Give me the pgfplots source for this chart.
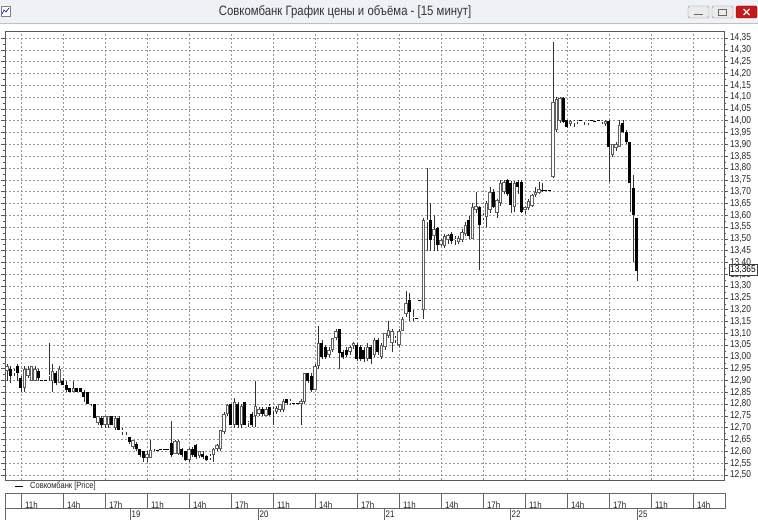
\documentclass[border=0pt]{standalone}
\usepackage{fontspec}
\setmainfont{Liberation Sans}
\newfontfamily\condfont{Liberation Sans}[FakeStretch=0.84]
\usepackage{pgfplots}
\pgfplotsset{compat=1.18}
\usepackage{pgfplotstable}

\pgfplotstableread{
x o h l c
0 12.94 12.97 12.90 12.96
1 12.95 12.96 12.89 12.92
2 12.93 12.95 12.92 12.94
3 12.96 12.97 12.90 12.93
4 12.91 12.92 12.85 12.87
5 12.87 12.96 12.85 12.95
6 12.92 12.96 12.91 12.95
7 12.90 12.96 12.90 12.96
8 12.90 12.96 12.90 12.95
9 12.94 12.95 12.90 12.91
10 12.90 12.90 12.90 12.90
11 12.90 12.90 12.90 12.90
12 12.92 13.06 12.90 12.925
13 12.90 12.97 12.85 12.94
14 12.93 12.94 12.88 12.89
15 12.89 12.96 12.89 12.95
16 12.90 12.91 12.88 12.88
17 12.88 12.90 12.85 12.86
18 12.87 12.87 12.85 12.85
19 12.85 12.90 12.85 12.87
20 12.87 12.87 12.85 12.85
21 12.87 12.87 12.85 12.85
22 12.85 12.86 12.81 12.83
23 12.85 12.85 12.80 12.80
24 12.81 12.81 12.79 12.80
25 12.80 12.80 12.74 12.74
26 12.72 12.75 12.71 12.75
27 12.74 12.75 12.70 12.71
28 12.71 12.75 12.70 12.75
29 12.71 12.75 12.70 12.75
30 12.75 12.75 12.71 12.71
31 12.70 12.75 12.69 12.74
32 12.74 12.75 12.69 12.69
33 12.69 12.70 12.67 12.68
34 12.67 12.68 12.66 12.66
35 12.66 12.66 12.63 12.64
36 12.62 12.65 12.61 12.65
37 12.63 12.64 12.60 12.61
38 12.61 12.61 12.58 12.585
39 12.60 12.60 12.555 12.57
40 12.57 12.60 12.555 12.59
41 12.57 12.65 12.57 12.605
42 12.60 12.61 12.60 12.605
43 12.605 12.605 12.605 12.605
44 12.61 12.61 12.61 12.61
45 12.61 12.61 12.61 12.61
46 12.61 12.61 12.61 12.61
47 12.635 12.73 12.58 12.585
48 12.59 12.65 12.59 12.645
49 12.59 12.65 12.585 12.645
50 12.61 12.615 12.58 12.585
51 12.60 12.60 12.56 12.565
52 12.565 12.615 12.555 12.61
53 12.61 12.62 12.58 12.585
54 12.625 12.63 12.57 12.575
55 12.58 12.60 12.57 12.60
56 12.59 12.60 12.57 12.575
57 12.58 12.585 12.56 12.565
58 12.57 12.59 12.565 12.58
59 12.585 12.615 12.555 12.61
60 12.61 12.63 12.605 12.625
61 12.61 12.69 12.605 12.69
62 12.68 12.765 12.675 12.76
63 12.76 12.80 12.75 12.795
64 12.80 12.80 12.71 12.71
65 12.71 12.825 12.70 12.81
66 12.80 12.81 12.70 12.71
67 12.71 12.80 12.70 12.79
68 12.81 12.81 12.71 12.71
69 12.72 12.73 12.705 12.725
70 12.76 12.765 12.705 12.71
71 12.75 12.90 12.705 12.79
72 12.76 12.79 12.75 12.78
73 12.78 12.79 12.75 12.76
74 12.75 12.79 12.75 12.78
75 12.79 12.80 12.75 12.755
76 12.77 12.79 12.71 12.78
77 12.765 12.79 12.76 12.785
78 12.775 12.80 12.77 12.80
79 12.775 12.82 12.77 12.815
80 12.82 12.82 12.80 12.805
81 12.815 12.82 12.80 12.805
82 12.805 12.805 12.805 12.805
83 12.805 12.805 12.805 12.805
84 12.80 12.82 12.71 12.815
85 12.81 12.93 12.80 12.93
86 12.93 12.93 12.89 12.90
87 12.92 12.93 12.85 12.86
88 12.86 12.97 12.86 12.96
89 12.96 13.13 12.95 13.06
90 13.06 13.07 12.99 13.00
91 13.04 13.05 12.99 13.00
92 13.01 13.04 13.00 13.03
93 13.03 13.08 13.02 13.08
94 13.08 13.12 13.07 13.11
95 13.12 13.12 12.95 13.015
96 13.02 13.03 12.99 13.00
97 13.03 13.04 13.00 13.01
98 13.02 13.045 13.01 13.04
99 13.045 13.065 13.035 13.06
100 13.05 13.06 12.985 12.99
101 13.04 13.05 12.985 12.99
102 13.03 13.04 12.98 12.99
103 12.99 13.06 12.985 13.04
104 13.04 13.05 12.97 12.99
105 13.01 13.08 13.00 13.07
106 13.07 13.08 13.01 13.02
107 13.00 13.06 12.99 13.05
108 13.04 13.10 13.03 13.10
109 13.09 13.15 13.08 13.115
110 13.06 13.12 13.02 13.11
111 13.08 13.09 13.06 13.07
112 13.05 13.12 13.04 13.11
113 13.11 13.17 13.11 13.16
114 13.18 13.28 13.17 13.23
115 13.24 13.27 13.15 13.19
116 13.17 13.20 13.15 13.165
117 13.165 13.165 13.165 13.165
118 13.24 13.24 13.24 13.24
119 13.20 13.59 13.16 13.58
120 13.58 13.80 13.45 13.57
121 13.58 13.65 13.45 13.495
122 13.51 13.60 13.45 13.54
123 13.545 13.55 13.45 13.475
124 13.475 13.50 13.47 13.495
125 13.47 13.52 13.46 13.51
126 13.495 13.52 13.48 13.515
127 13.52 13.53 13.48 13.49
128 13.50 13.51 13.475 13.495
129 13.488 13.51 13.48 13.503
130 13.495 13.54 13.49 13.53
131 13.52 13.57 13.51 13.56
132 13.58 13.595 13.50 13.51
133 13.50 13.65 13.50 13.636
134 13.62 13.70 13.61 13.64
135 13.636 13.64 13.37 13.558
136 13.587 13.61 13.58 13.60
137 13.594 13.66 13.55 13.65
138 13.62 13.72 13.61 13.70
139 13.70 13.71 13.63 13.636
140 13.61 13.67 13.59 13.665
141 13.65 13.75 13.64 13.735
142 13.70 13.75 13.69 13.742
143 13.75 13.755 13.68 13.69
144 13.735 13.745 13.608 13.643
145 13.636 13.745 13.615 13.735
146 13.742 13.75 13.69 13.72
147 13.742 13.75 13.61 13.615
148 13.62 13.64 13.605 13.635
149 13.63 13.67 13.625 13.66
150 13.64 13.69 13.635 13.685
151 13.685 13.72 13.68 13.70
152 13.695 13.742 13.69 13.71
153 13.705 13.735 13.70 13.705
154 13.705 13.705 13.705 13.705
155 13.705 13.705 13.705 13.705
156 13.763 14.335 13.76 14.08
157 13.96 14.10 13.955 14.09
158 14.00 14.10 13.99 14.095
159 14.095 14.10 13.99 13.996
160 14.003 14.005 13.97 13.975
161 13.985 14.003 13.98 14.00
162 14.00 14.003 13.975 13.99
163 13.995 14.003 13.99 14.00
164 14.00 14.00 14.00 14.00
165 14.00 14.00 13.98 13.995
166 13.99 14.003 13.985 14.00
167 14.00 14.00 14.00 14.00
168 13.998 13.998 13.998 13.998
169 14.00 14.00 14.00 14.00
170 14.00 14.003 13.985 13.993
171 13.985 14.003 13.98 14.00
172 14.00 14.003 13.742 13.89
173 13.855 13.90 13.85 13.90
174 13.885 13.91 13.87 13.90
175 13.89 14.003 13.89 13.98
176 13.99 14.005 13.95 13.954
177 13.954 13.96 13.90 13.91
178 13.91 13.91 13.615 13.735
179 13.714 13.77 13.40 13.60
180 13.587 13.59 13.32 13.365
}\candles

\definecolor{upgray}{RGB}{95,95,95}
\definecolor{titlebar}{RGB}{238,241,245}
\definecolor{gridc}{RGB}{150,150,150}
\definecolor{framec}{RGB}{90,90,90}

\pgfplotsset{
  bodyplot/.style={draw=none, mark=none, forget plot,
    error bars/y dir=both, error bars/y explicit, error bars/error mark=none},
}

\begin{document}
\begin{tikzpicture}
\useasboundingbox (0bp,0bp) rectangle (758bp,520bp);
\begin{scope}[x=1bp,y=1bp]
\fill[white] (0,0) rectangle (758,520);
% window title bar
\fill[titlebar] (0,497) rectangle (758,520);
\draw[black!25] (0,497) -- (758,497);
\node[font=\condfont\fontsize{13.6}{14}\selectfont, text=black!80] at (345,508.5) {Совкомбанк График цены и объёма - [15 минут]};
% small icon
\draw[black!50, fill=white] (1,504) rectangle (10,514);
\draw[blue!60!black, line width=0.6bp] (2,506) -- (4,510) -- (6,508) -- (9,512);
% window buttons
\draw[black!45, fill=black!8, rounded corners=1.5bp] (688,502) rectangle (709,514);
\draw[black!60, line width=1bp] (694,505.5) -- (703,505.5);
\draw[black!45, fill=black!8, rounded corners=1.5bp] (712,502) rectangle (733,514);
\draw[black!60, line width=0.8bp] (718.5,505) rectangle (726.5,511);
\draw[red!50!black, fill=red!75!black!90, rounded corners=1.5bp] (736,502) rectangle (757,514);
\draw[white, line width=1.2bp] (743.5,505) -- (749.5,511) (743.5,511) -- (749.5,505);
\end{scope}

\begin{axis}[
  name=main,
  at={(5bp,40.3bp)}, anchor=south west,
  scale only axis, width=719bp, height=448.7bp,
  xmin=-0.57, xmax=204.86, ymin=12.48, ymax=14.38,
  axis line style={draw=framec},
  tick align=outside,
  ytick={12.50,12.55,...,14.36},
  minor y tick num=1,
  ytick pos=both, yticklabel pos=right,
  major tick length=4bp, minor tick length=2.2bp,
  y tick style={draw=framec, line width=0.5bp},
  yticklabel style={font=\condfont\fontsize{10}{10}\selectfont, text=black!85, xshift=-1.5bp,
    /pgf/number format/.cd, fixed, fixed zerofill, precision=2, use comma, assume math mode=true},
  xtick={4,16,28,40,52,64,76,88,100,112,124,136,148,160,172,184,196},
  xticklabels={11h,14h,17h,11h,14h,17h,11h,14h,17h,11h,14h,17h,11h,14h,17h,11h,14h},
  x tick style={draw=none},
  xticklabel style={anchor=west, yshift=-21.3bp, xshift=0.5bp, font=\condfont\fontsize{9.5}{10}\selectfont, text=black!85},
  grid=major,
  major grid style={draw=gridc, line width=0.5bp, dash pattern=on 2bp off 2bp},
]
% upper wicks (high to top of body)
\addplot[bodyplot, error bars/error bar style={draw=black!80, line width=0.7bp, line cap=butt}]
  table[x=x, y expr={(\thisrow{h}+max(\thisrow{o},\thisrow{c}))/2}, y error expr={(\thisrow{h}-max(\thisrow{o},\thisrow{c}))/2}] {\candles};
% lower wicks (bottom of body to low)
\addplot[bodyplot, error bars/error bar style={draw=black!80, line width=0.7bp, line cap=butt}]
  table[x=x, y expr={(\thisrow{l}+min(\thisrow{o},\thisrow{c}))/2}, y error expr={(min(\thisrow{o},\thisrow{c})-\thisrow{l})/2}] {\candles};
% up bodies (outline)
\addplot[bodyplot, restrict expr to domain={\thisrow{c}-\thisrow{o}}{0.0005:5},
  error bars/error bar style={draw=upgray, line width=3.3bp, line cap=rect}]
  table[x=x, y expr={(\thisrow{o}+\thisrow{c})/2}, y error expr={max((\thisrow{c}-\thisrow{o})/2-0.007,0)}] {\candles};
% up bodies (hollow inside)
\addplot[bodyplot, restrict expr to domain={\thisrow{c}-\thisrow{o}}{0.0005:5},
  error bars/error bar style={draw=white, line width=1.3bp, line cap=rect}]
  table[x=x, y expr={(\thisrow{o}+\thisrow{c})/2}, y error expr={max((\thisrow{c}-\thisrow{o})/2-0.007,0)}] {\candles};
% down bodies
\addplot[bodyplot, restrict expr to domain={\thisrow{o}-\thisrow{c}}{0.0005:5},
  error bars/error bar style={draw=black, line width=3bp, line cap=rect}]
  table[x=x, y expr={(\thisrow{o}+\thisrow{c})/2}, y error expr={max((\thisrow{o}-\thisrow{c})/2-0.0064,0)}] {\candles};
% flat bars
\addplot[only marks, mark=-, mark size=1.5bp, forget plot,
  mark options={draw=black, line width=0.8bp},
  restrict expr to domain={abs(\thisrow{c}-\thisrow{o})}{0:0.0005}]
  table[x=x, y=c] {\candles};
\end{axis}

\begin{scope}[x=1bp,y=1bp]
% last price box
\node[draw=black!75, fill=white, inner sep=1.2bp, font=\condfont\fontsize{10}{10}\selectfont] at (743,250) {13,365};
% legend
\draw[black, line width=0.6bp] (15,34) -- (23,34);
\node[anchor=west, font=\condfont\fontsize{9}{9}\selectfont, text=black!85, inner sep=0] at (30,34) {Совкомбанк [Price]};
% time scale panel
\draw[black!60, line width=0.5bp] (5,0) -- (5,27) -- (725,27) -- (725,12) -- (5,12);
\foreach \p in {21,63,105,147,189,231,273,315,357,399,441,483,525,567,609,651,693}
  \draw[black!60, line width=0.5bp] (\p,12) -- (\p,27);
\foreach \p/\d in {130/19,258/20,384/21,510/22,637/25}{
  \draw[black!60, line width=0.5bp] (\p,0) -- (\p,12);
  \node[anchor=west, font=\condfont\fontsize{9.5}{10}\selectfont, text=black!85, inner sep=1.5bp] at (\p,5.5) {\d};
}
\end{scope}
\end{tikzpicture}
\end{document}
